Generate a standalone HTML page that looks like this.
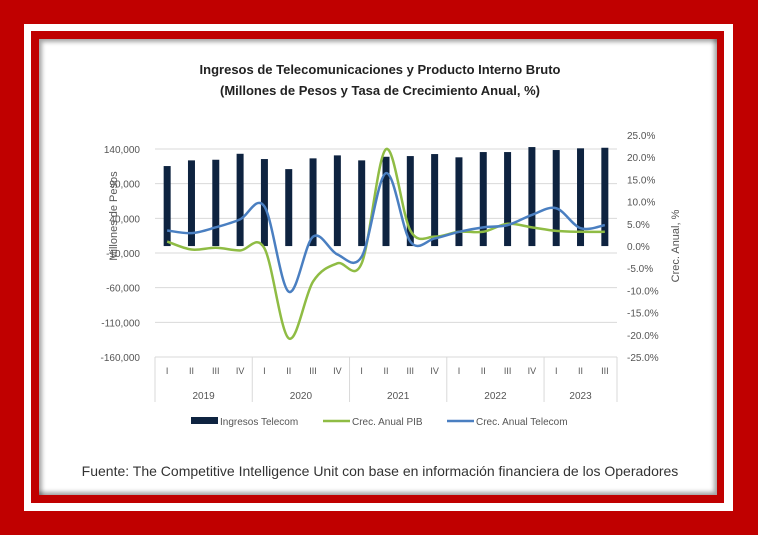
<!DOCTYPE html>
<html><head><meta charset="utf-8"><style>
body{margin:0;width:758px;height:535px;overflow:hidden;background:#c00000;font-family:"Liberation Sans",sans-serif}
#white{position:absolute;left:24px;top:24px;width:709px;height:487px;background:#fff}
#inred{position:absolute;left:31px;top:31px;width:693px;height:472px;background:#c00000}
#content{position:absolute;left:39px;top:39px;width:678px;height:456px;background:#fff;box-shadow:inset 3px 3px 4px rgba(0,0,0,0.35),inset -3px -3px 4px rgba(0,0,0,0.35)}
svg{position:absolute;left:0;top:0}
</style></head><body>
<div id="white"></div>
<div id="inred"></div>
<div id="content"></div>
<svg id="chart" width="758" height="535" font-family="Liberation Sans, sans-serif">
<text x="380" y="74" text-anchor="middle" font-size="13" font-weight="bold" fill="#222">Ingresos de Telecomunicaciones y Producto Interno Bruto</text>
<text x="380" y="95" text-anchor="middle" font-size="13" font-weight="bold" fill="#222">(Millones de Pesos y Tasa de Crecimiento Anual, %)</text>
<text transform="translate(117,216) rotate(-90)" text-anchor="middle" font-size="11" fill="#555">Millones de Pesos</text>
<text transform="translate(679,246) rotate(-90)" text-anchor="middle" font-size="11" fill="#555">Crec. Anual, %</text>
<g id="grid"></g><g id="bars"></g><g id="lines"></g><g id="axes"></g>
<g>
<rect x="191" y="417" width="27" height="7" fill="#0e2340"/>
<text x="220" y="425" font-size="10" fill="#555">Ingresos Telecom</text>
<line x1="323" y1="421" x2="350" y2="421" stroke="#8fbc44" stroke-width="2.5"/>
<text x="352" y="425" font-size="10" fill="#555">Crec. Anual PIB</text>
<line x1="447" y1="421" x2="474" y2="421" stroke="#4a7fc1" stroke-width="2.5"/>
<text x="476" y="425" font-size="10" fill="#555">Crec. Anual Telecom</text>
</g>
<text x="380" y="476" text-anchor="middle" font-size="14" fill="#333">Fuente: The Competitive Intelligence Unit con base en información financiera de los Operadores</text>
</svg>
<script>
const quarters=["I","II","III","IV","I","II","III","IV","I","II","III","IV","I","II","III","IV","I","II","III"];
const years=["2019","2020","2021","2022","2023"];
const ingresos=[115400,123600,124500,133100,125500,111000,126500,130800,123600,128800,129800,132700,128000,135600,135600,142800,138500,141000,141800];
const pib=[1.0,-0.8,-0.4,-1.0,-0.5,-20.8,-8.0,-3.9,-3.9,21.8,3.5,2.1,3.2,3.2,5.0,4.2,3.4,3.2,3.2];
const telecom=[3.5,2.9,4.2,6.0,8.9,-10.3,2.1,-1.9,-2.4,16.4,1.0,1.7,3.2,4.2,4.7,7.0,8.5,4.0,4.7];
const leftTicks=[140000,90000,40000,-10000,-60000,-110000,-160000];
const rightTicks=[25,20,15,10,5,0,-5,-10,-15,-20,-25];
const X0=155,X1=617,Ytop=149,Ybot=357;
const step=(X1-X0)/quarters.length;
const xs=i=>X0+step*(i+0.5);
const yl=v=>Ytop+(140000-v)*(Ybot-Ytop)/300000;
const yr=v=>246-v*(246-135)/25;
const NS="http://www.w3.org/2000/svg";
function mk(tag,attrs,parent,text){const e=document.createElementNS(NS,tag);for(const k in attrs)e.setAttribute(k,attrs[k]);if(text!==undefined)e.textContent=text;document.getElementById(parent).appendChild(e);return e;}
leftTicks.forEach(v=>{
 const g=mk("line",{x1:X0,x2:X1,y1:yl(v),y2:yl(v),stroke:"#d9d9d9","stroke-width":1},"grid");
 
 
 const t=mk("text",{x:140,y:yl(v)+4,"text-anchor":"end","font-size":10,fill:"#555"},"axes",v.toLocaleString("en-US"));
 
 
});
rightTicks.forEach(v=>{
 const t=mk("text",{x:627,y:yr(v)+4,"font-size":10,fill:"#555"},"axes",v.toFixed(1)+"%");
 
 
});
ingresos.forEach((v,i)=>{
 const y=Math.min(yl(v),yl(0)),h=Math.abs(yl(v)-yl(0));
 const r=mk("rect",{x:xs(i)-3.5,y:y,width:7,height:h,fill:"#0e2340"},"bars");
 
 
});
function smooth(pts){let d="M"+pts[0][0]+","+pts[0][1];for(let i=0;i<pts.length-1;i++){const p0=pts[i-1]||pts[i],p1=pts[i],p2=pts[i+1],p3=pts[i+2]||p2;const c1=[p1[0]+(p2[0]-p0[0])/6,p1[1]+(p2[1]-p0[1])/6],c2=[p2[0]-(p3[0]-p1[0])/6,p2[1]-(p3[1]-p1[1])/6];d+=" C"+c1+" "+c2+" "+p2;}return d;}
const pg=mk("path",{d:smooth(pib.map((v,i)=>[xs(i),yr(v)])),fill:"none",stroke:"#8fbc44","stroke-width":2.5},"lines");


const pt=mk("path",{d:smooth(telecom.map((v,i)=>[xs(i),yr(v)])),fill:"none",stroke:"#4a7fc1","stroke-width":2.5},"lines");


// category axis
const ax=mk("line",{x1:X0,x2:X1,y1:Ybot,y2:Ybot,stroke:"#d9d9d9"},"axes");


quarters.forEach((q,i)=>{
 const t=mk("text",{x:xs(i),y:374,"text-anchor":"middle","font-size":9,fill:"#555"},"axes",q);
 
 
});
years.forEach((yv,j)=>{
 const a=X0+step*4*j,b=Math.min(X0+step*4*(j+1),X1);
 const s=mk("line",{x1:a,x2:a,y1:Ybot,y2:402,stroke:"#d9d9d9"},"axes");
 
 
 const t=mk("text",{x:(a+b)/2,y:399,"text-anchor":"middle","font-size":10,fill:"#555"},"axes",yv);
 
 
});
const se=mk("line",{x1:X1,x2:X1,y1:Ybot,y2:402,stroke:"#d9d9d9"},"axes");


</script>
</body></html>
